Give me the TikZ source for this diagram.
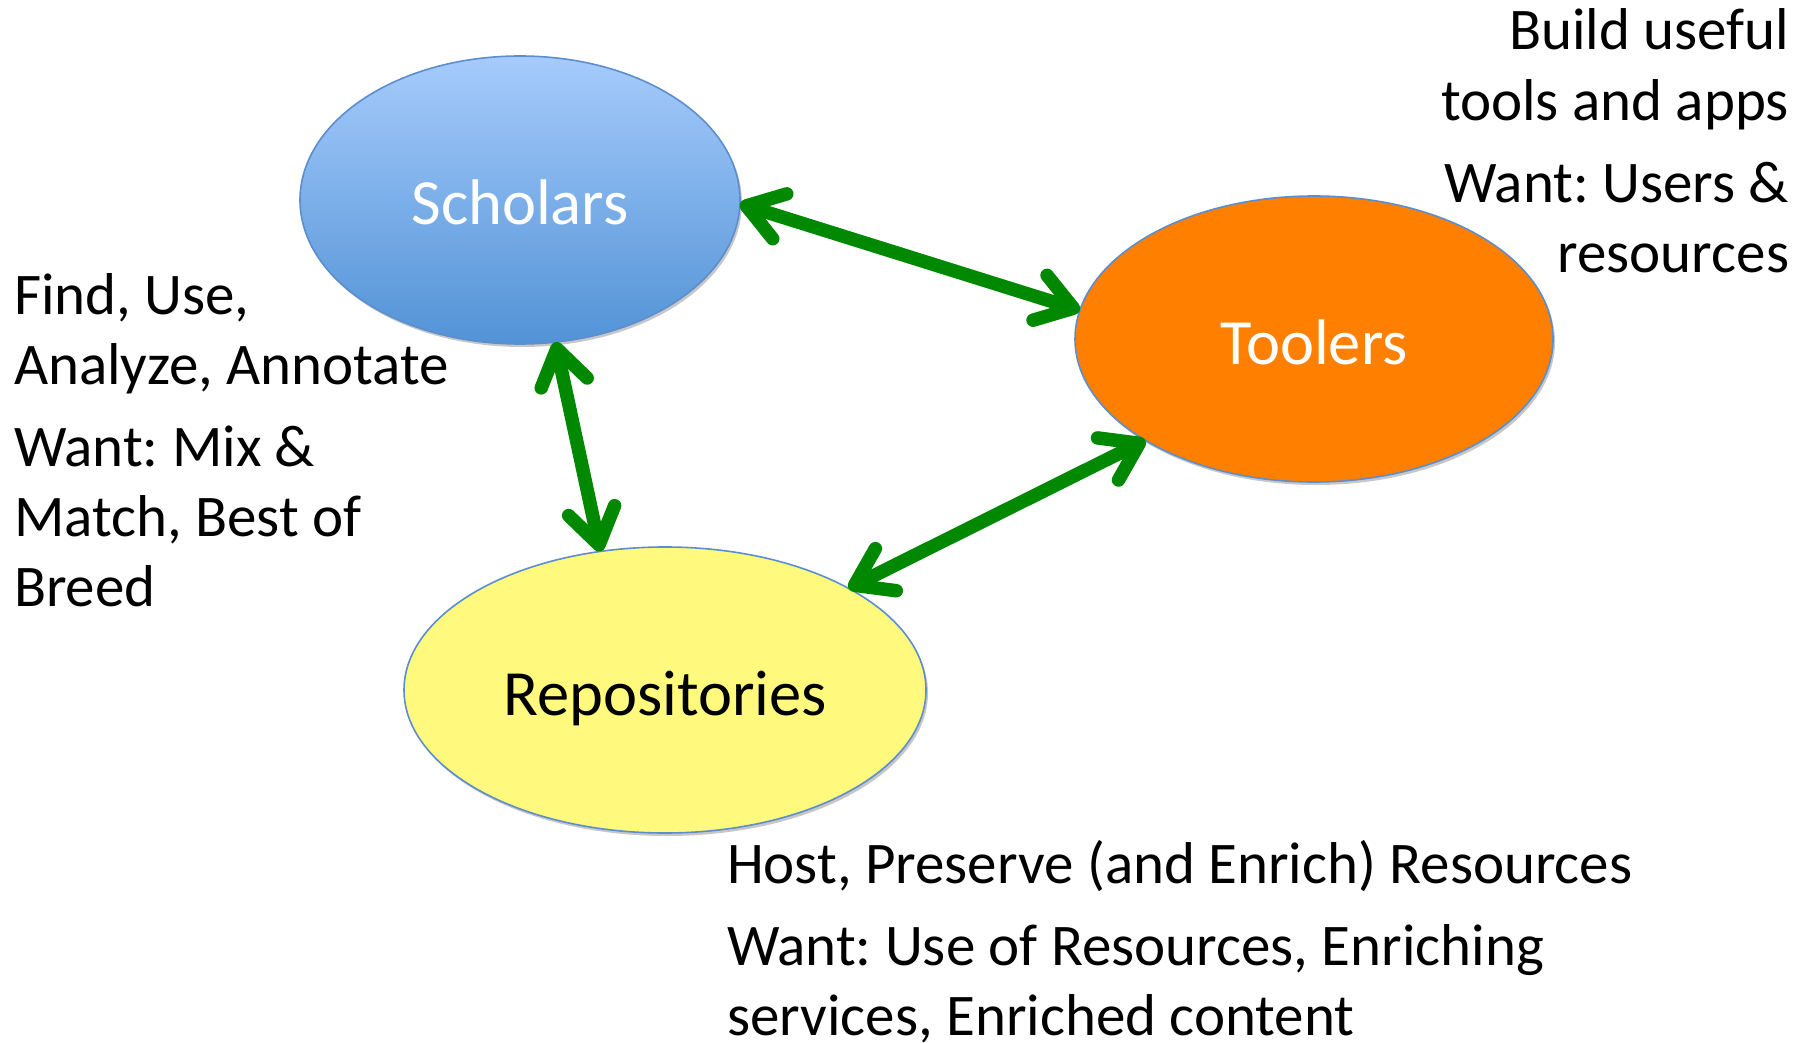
\documentclass[tikz,border=0pt]{standalone}
\usepackage{fontspec}
\setmainfont{Carlito}
\usetikzlibrary{shapes.geometric,arrows.meta,shadows}
\frenchspacing

\definecolor{linkgreen}{RGB}{0,137,0}
\definecolor{rimblue}{RGB}{92,142,206}
\definecolor{schtop}{RGB}{166,203,252}
\definecolor{schbot}{RGB}{82,147,214}
\definecolor{toolorange}{RGB}{255,127,0}
\definecolor{repoyellow}{RGB}{255,250,125}

\begin{document}
\begin{tikzpicture}[x=1pt,y=-1pt,
  actor/.style={ellipse, draw=rimblue, line width=1.6pt, inner sep=0pt, outer sep=0pt,
    font=\fontsize{64.5}{76}\selectfont, text height=58pt, text depth=8pt,
    drop shadow={shadow xshift=2pt, shadow yshift=-3pt, opacity=0.22, fill=black}},
  link/.style={draw=linkgreen, line width=13.5pt,
    {Straight Barb[length=35pt,width=47pt,round]}-{Straight Barb[length=35pt,width=47pt,round]}},
  note/.style={font=\fontsize{59}{70}\selectfont, inner sep=0pt, outer sep=0pt}
]
\useasboundingbox (0,0) rectangle (1809,1043);

% the three communities
\node[actor, minimum width=440pt, minimum height=288pt,
      top color=schtop, bottom color=schbot, text=white] (sch) at (520,200) {Scholars};
\node[actor, minimum width=478pt, minimum height=286pt,
      fill=toolorange, text=white] (tool) at (1314,339) {Toolers};
\node[actor, minimum width=522pt, minimum height=286pt,
      fill=repoyellow, text=black] (repo) at (665,690) {Repositories};

% two-way relations
\draw[link] (sch.-1) -- (tool.173);
\draw[link] (sch.-76) -- (repo.115);
\draw[link] (tool.211) -- (repo.29);

% roles and wants (each node is placed by the baseline of its last line)
\node[note, anchor=base west, align=left] (schnote) at (14,606)
  {Find, Use,\\Analyze, Annotate\\[12pt]Want: Mix \&\\Match, Best of\\Breed};
\node[note, anchor=base east, align=right] (toolnote) at (1789,272)
  {Build useful\\tools and apps\\[12pt]Want: Users \&\\resources};
\node[note, anchor=base west, align=left] (reponote) at (727,1035)
  {Host, Preserve (and Enrich) Resources\\[12pt]Want: Use of Resources, Enriching\\services, Enriched content};
\end{tikzpicture}
\end{document}
